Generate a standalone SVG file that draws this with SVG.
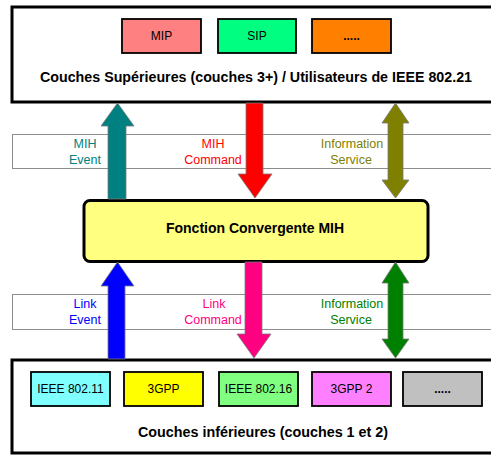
<svg xmlns="http://www.w3.org/2000/svg" width="491" height="455" viewBox="0 0 491 455">
<style>
text{font-family:"Liberation Sans",Arial,sans-serif;}
.layer{fill:#fff;stroke:#000;stroke-width:3;}
.box{stroke:#000;stroke-width:1.8;}
.bl{font-size:12px;fill:#000;text-anchor:middle;}
.dots{font-weight:bold;}
.title{font-size:14px;font-weight:bold;fill:#000;text-anchor:middle;}
.band{fill:#fff;stroke:#8c8c8c;stroke-width:1;}
.lab{font-size:12.5px;text-anchor:middle;}
.arr{stroke:#7a7a7a;stroke-width:0.8;}
</style>
<rect width="491" height="455" fill="#fff"/>
<g id="bands">
<rect class="band" x="12.5" y="134.5" width="490" height="34"/>
<rect class="band" x="12.5" y="294.5" width="490" height="35"/>
</g>
<g id="upper">
<rect class="layer" x="12" y="7" width="490" height="95"/>
<g id="mip"><rect class="box" x="122" y="19" width="79" height="34" fill="#FF8080"/><text class="bl" x="161.5" y="40">MIP</text></g>
<g id="sip"><rect class="box" x="218" y="19" width="78" height="34" fill="#00FF80"/><text class="bl" x="257" y="40">SIP</text></g>
<g id="etc-up"><rect class="box" x="312" y="19" width="79" height="34" fill="#FF8000"/><text class="bl dots" x="351.5" y="40">.....</text></g>
<text class="title" x="256" y="82" textLength="432" lengthAdjust="spacingAndGlyphs">Couches Supérieures (couches 3+) / Utilisateurs de IEEE 802.21</text>
</g>
<g id="mih">
<rect x="84" y="200.5" width="344" height="61" rx="6" fill="#FFFF80" stroke="#000" stroke-width="3"/>
<text class="title" x="255" y="233">Fonction Convergente MIH</text>
</g>
<g id="lower">
<rect class="layer" x="12" y="360" width="490" height="93"/>
<g id="ieee80211"><rect class="box" x="31" y="372" width="79" height="34" fill="#80FFFF"/><text class="bl" x="70.5" y="393">IEEE 802.11</text></g>
<g id="g3gpp"><rect class="box" x="124" y="372" width="79" height="34" fill="#FFFF00"/><text class="bl" x="163.5" y="393">3GPP</text></g>
<g id="ieee80216"><rect class="box" x="219" y="372" width="79" height="34" fill="#80FF80"/><text class="bl" x="258.5" y="393">IEEE 802.16</text></g>
<g id="g3gpp2"><rect class="box" x="312" y="372" width="79" height="34" fill="#FF80FF"/><text class="bl" x="351.5" y="393">3GPP 2</text></g>
<g id="etc-low"><rect class="box" x="403" y="372" width="79" height="34" fill="#C0C0C0"/><text class="bl dots" x="442.5" y="393">.....</text></g>
<text class="title" x="263" y="437" textLength="250" lengthAdjust="spacingAndGlyphs">Couches inférieures (couches 1 et 2)</text>
</g>
<g id="connectors">
<path class="arr" fill="#008080" d="M108,199 L108,126 L101,126 L117.5,103 L134,126 L126,126 L126,199 Z"/>
<path class="arr" fill="#FF0000" d="M246,103 L246,174 L238,174 L255,198 L272,174 L263,174 L263,103 Z"/>
<path class="arr" fill="#808000" d="M388,123 L382,123 L395.5,103 L409,123 L403,123 L403,180 L409,180 L395.5,198 L382,180 L388,180 Z"/>
<path class="arr" fill="#0000FF" d="M108,359 L108,286 L101,286 L117.5,262 L134,286 L125,286 L125,359 Z"/>
<path class="arr" fill="#FF0080" d="M245,262 L245,334 L237,334 L254,358 L271,334 L262,334 L262,262 Z"/>
<path class="arr" fill="#008000" d="M388,283 L382,283 L395.5,262 L409,283 L403,283 L403,339 L409,339 L395.5,358 L382,339 L388,339 Z"/>
</g>
<g id="labels">
<text class="lab" fill="#008080" x="85" y="148">MIH</text>
<text class="lab" fill="#008080" x="85" y="164">Event</text>
<text class="lab" fill="#FF0000" x="213" y="148">MIH</text>
<text class="lab" fill="#FF0000" x="213" y="164">Command</text>
<text class="lab" fill="#808000" x="352" y="148">Information</text>
<text class="lab" fill="#808000" x="351" y="164">Service</text>
<text class="lab" fill="#0000FF" x="85" y="308">Link</text>
<text class="lab" fill="#0000FF" x="85" y="324">Event</text>
<text class="lab" fill="#FF0080" x="214" y="308">Link</text>
<text class="lab" fill="#FF0080" x="213" y="324">Command</text>
<text class="lab" fill="#008000" x="352" y="308">Information</text>
<text class="lab" fill="#008000" x="351" y="324">Service</text>
</g>
</svg>
